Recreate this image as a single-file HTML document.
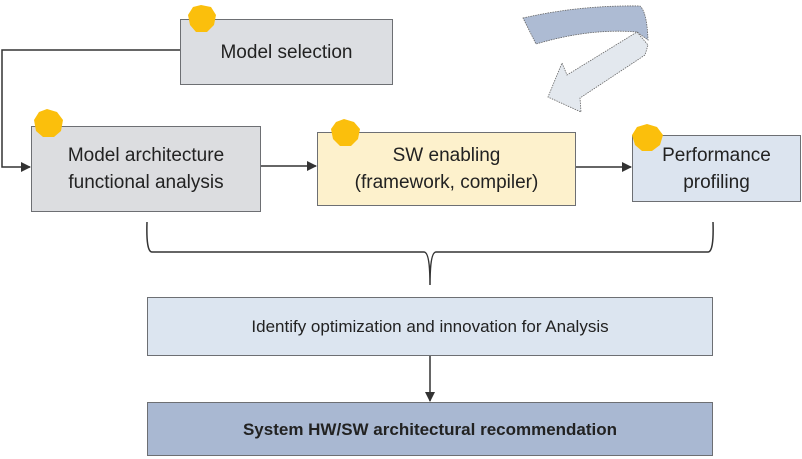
<!DOCTYPE html>
<html><head><meta charset="utf-8"><style>
body{margin:0;width:802px;height:459px;background:#fff;overflow:hidden;position:relative;font-family:"Liberation Sans",sans-serif}
.b{position:absolute;box-sizing:border-box;border:1.5px solid #6d6f73;display:flex;align-items:center;justify-content:center;text-align:center;color:#222;font-size:19px;line-height:27px}
</style></head><body>
<svg width="802" height="459" style="position:absolute;left:0;top:0">
<defs><marker id="a" markerWidth="10" markerHeight="10" refX="9" refY="5" orient="auto" markerUnits="userSpaceOnUse"><path d="M0,0 L10,5 L0,10Z" fill="#333"/></marker></defs>
<path d="M180,50 H2 V167 H30" fill="none" stroke="#333" stroke-width="1.5" marker-end="url(#a)"/>
<path d="M261,166 H316" fill="none" stroke="#333" stroke-width="1.5" marker-end="url(#a)"/>
<path d="M576,167 H631" fill="none" stroke="#333" stroke-width="1.5" marker-end="url(#a)"/>
<path d="M430,356 V401" fill="none" stroke="#333" stroke-width="1.5" marker-end="url(#a)"/>
<path d="M147,222 Q146,252 152,252 H424 Q430,252 430,285 Q430,252 436,252 H708 Q714,252 713,222" fill="none" stroke="#333" stroke-width="1.5"/>
<path d="M523,18 Q580,5 640,6 Q647,12 648,40 L637,32 Q590,28 536,44 Z" fill="#adbbd3" stroke="#666" stroke-width="0.8" stroke-dasharray="1.5,1"/>
<path d="M637,32 L648,45 L645,55 L580,98 L581,112 L548,97 L562,63 L567,75 Z" fill="#e3e8ee" stroke="#666" stroke-width="0.8" stroke-dasharray="1.5,1"/>
</svg>
<div class="b" style="left:180px;top:19px;width:213px;height:66px;background:#dcdee2">Model selection</div>
<div class="b" style="left:31px;top:126px;width:230px;height:86px;background:#dcdde0">Model architecture<br>functional analysis</div>
<div class="b" style="left:317px;top:132px;width:259px;height:74px;background:#fdf1cc">SW enabling<br>(framework, compiler)</div>
<div class="b" style="left:632px;top:135px;width:169px;height:67px;background:#dce4ef">Performance<br>profiling</div>
<div class="b" style="left:147px;top:297px;width:566px;height:59px;background:#dce5f0;font-size:17px">Identify optimization and innovation for Analysis</div>
<div class="b" style="left:147px;top:402px;width:566px;height:54px;background:#a9b8d2;font-size:17px;font-weight:bold">System HW/SW architectural recommendation</div>
<svg width="802" height="459" style="position:absolute;left:0;top:0">
<g fill="#fbbf0c">
<polygon points="201,5 211,7 216,15 214,25 207,32 196,32 190,25 188,15 193,7"/>
<polygon points="47,109 57,112 63,120 61,131 54,137 43,137 36,131 34,120 39,112"/>
<polygon points="344,119 354,122 360,129 358,139 351,146 340,146 333,139 331,129 336,122"/>
<polygon points="647,124 657,127 663,135 660,145 652,151 642,151 635,145 632,135 637,127"/>
</g></svg>
</body></html>
